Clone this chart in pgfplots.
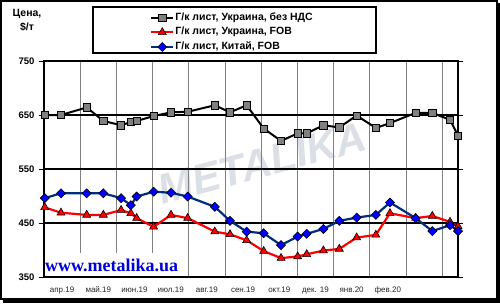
\documentclass[border=0pt]{standalone}
\usepackage{fontspec}
\setmainfont{Liberation Sans}
\newfontfamily\serifb{Liberation Serif}
\usepackage{pgfplots}
\pgfplotsset{compat=1.18}
\definecolor{grayser}{RGB}{128,128,128}
\definecolor{navyl}{RGB}{0,45,125}
\definecolor{bluem}{RGB}{0,0,255}
\definecolor{wmark}{RGB}{218,224,230}
\definecolor{urlblue}{RGB}{0,0,220}
\pgfplotstableread{
x gray red blue
0.02 650 479 496
0.47 650 469 505
1.18 664 465 505
1.64 639 465 505
2.13 631 474 496
2.40 637 468 483
2.56 639 459 499
3.03 648 443 508
3.51 655 465 506
3.97 656 459 499
4.72 668 434 480
5.14 655 429 454
5.60 668 418 434
6.07 625 398 431
6.55 602 385 409
7.01 616 388 425
7.26 616 392 430
7.72 631 399 439
8.16 627 402 454
8.64 649 423 460
9.17 626 428 465
9.56 635 468 488
10.27 654 459 459
10.73 654 463 435
11.22 641 452 446
11.44 612 444 435
}\datatable
\begin{document}
\begin{tikzpicture}
\useasboundingbox (0,0) rectangle (500pt,303pt);
\fill[white] (0,0) rectangle (500pt,303pt);
% watermark
\node[rotate=15, text=wmark, font=\bfseries\itshape\fontsize{42}{42}\selectfont, inner sep=0pt] at (262pt,140pt) {METALIKA};
\begin{axis}[
  at={(44pt,26pt)}, anchor=south west,
  scale only axis, width=414pt, height=216pt,
  xmin=0, xmax=11.44, ymin=350, ymax=750,
  axis line style={line width=1.6pt, black},
  ytick={350,450,550,650,750},
  ymajorgrids, y grid style={black, line width=1.2pt},
  xtick={0.5,1.5,...,9.5},
  xticklabels={апр.19, май.19, июн.19, июл.19, авг.19, сен.19, окт.19, дек. 19, янв.20, фев.20},
  minor xtick={1,2,...,11},
  xminorgrids, minor x grid style={grayser, line width=0.6pt},
  tick align=outside,
  x tick style={draw=none},
  minor x tick style={draw=none},
  y tick style={black, line width=0.8pt},
  major tick length=5pt,
  /pgf/number format/assume math mode=true,
  yticklabel style={font=\bfseries\fontsize{9.5}{10}\selectfont, xshift=-1pt},
  xticklabel style={font=\fontsize{8}{9}\selectfont, text=black!85, yshift=-1pt},
  legend cell align=left,
  legend style={draw=none, fill=none, at={(0.256,1.225)}, anchor=north west,
    inner sep=0pt, row sep=4.7pt,
    nodes={inner xsep=1pt, inner ysep=0pt, text height=7.5pt, text depth=2.5pt},
    font=\bfseries\fontsize{10.5}{11}\selectfont},
  legend image code/.code={\draw[mark repeat=2,mark phase=2,#1] plot coordinates {(0pt,0pt) (11pt,0pt) (22pt,0pt)};},
]
\addplot[black, line width=2pt, mark=square*, mark size=3.6pt, mark options={fill=grayser, draw=black, line width=0.7pt}] table[x=x, y=gray] {\datatable};
\addlegendentry{Г/к лист, Украина, без НДС}
\addplot[red, line width=2.2pt, mark=triangle*, mark size=4.6pt, mark options={fill=red, draw=black, line width=0.6pt}] table[x=x, y=red] {\datatable};
\addlegendentry{Г/к лист, Украина, FOB}
\addplot[navyl, line width=2.2pt, mark=square*, mark size=3.2pt, mark options={rotate=45, fill=bluem, draw=black, line width=0.6pt}] table[x=x, y=blue] {\datatable};
\addlegendentry{Г/к лист, Китай, FOB}
\end{axis}
% legend frame
\draw[line width=1.5pt] (93pt,250pt) rectangle (376pt,296pt);
% url
\fill[white] (45.5pt,27pt) rectangle (181pt,50pt);
\node[anchor=base west, inner sep=0pt, text=urlblue, font=\serifb\bfseries\fontsize{18}{18}\selectfont] at (45pt,32pt) {www.metalika.ua};
% y axis unit
\node[align=center, font=\bfseries\fontsize{10.5}{14}\selectfont, inner sep=0pt, anchor=north] at (27pt,294pt) {Цена,\\\$/т};
% outer frame with shadow
\draw[line width=2pt] (1pt,4pt) rectangle (497pt,302pt);
\fill[black] (496pt,0pt) rectangle (500pt,300pt);
\fill[black] (3pt,0pt) rectangle (500pt,5pt);
\end{tikzpicture}
\end{document}
